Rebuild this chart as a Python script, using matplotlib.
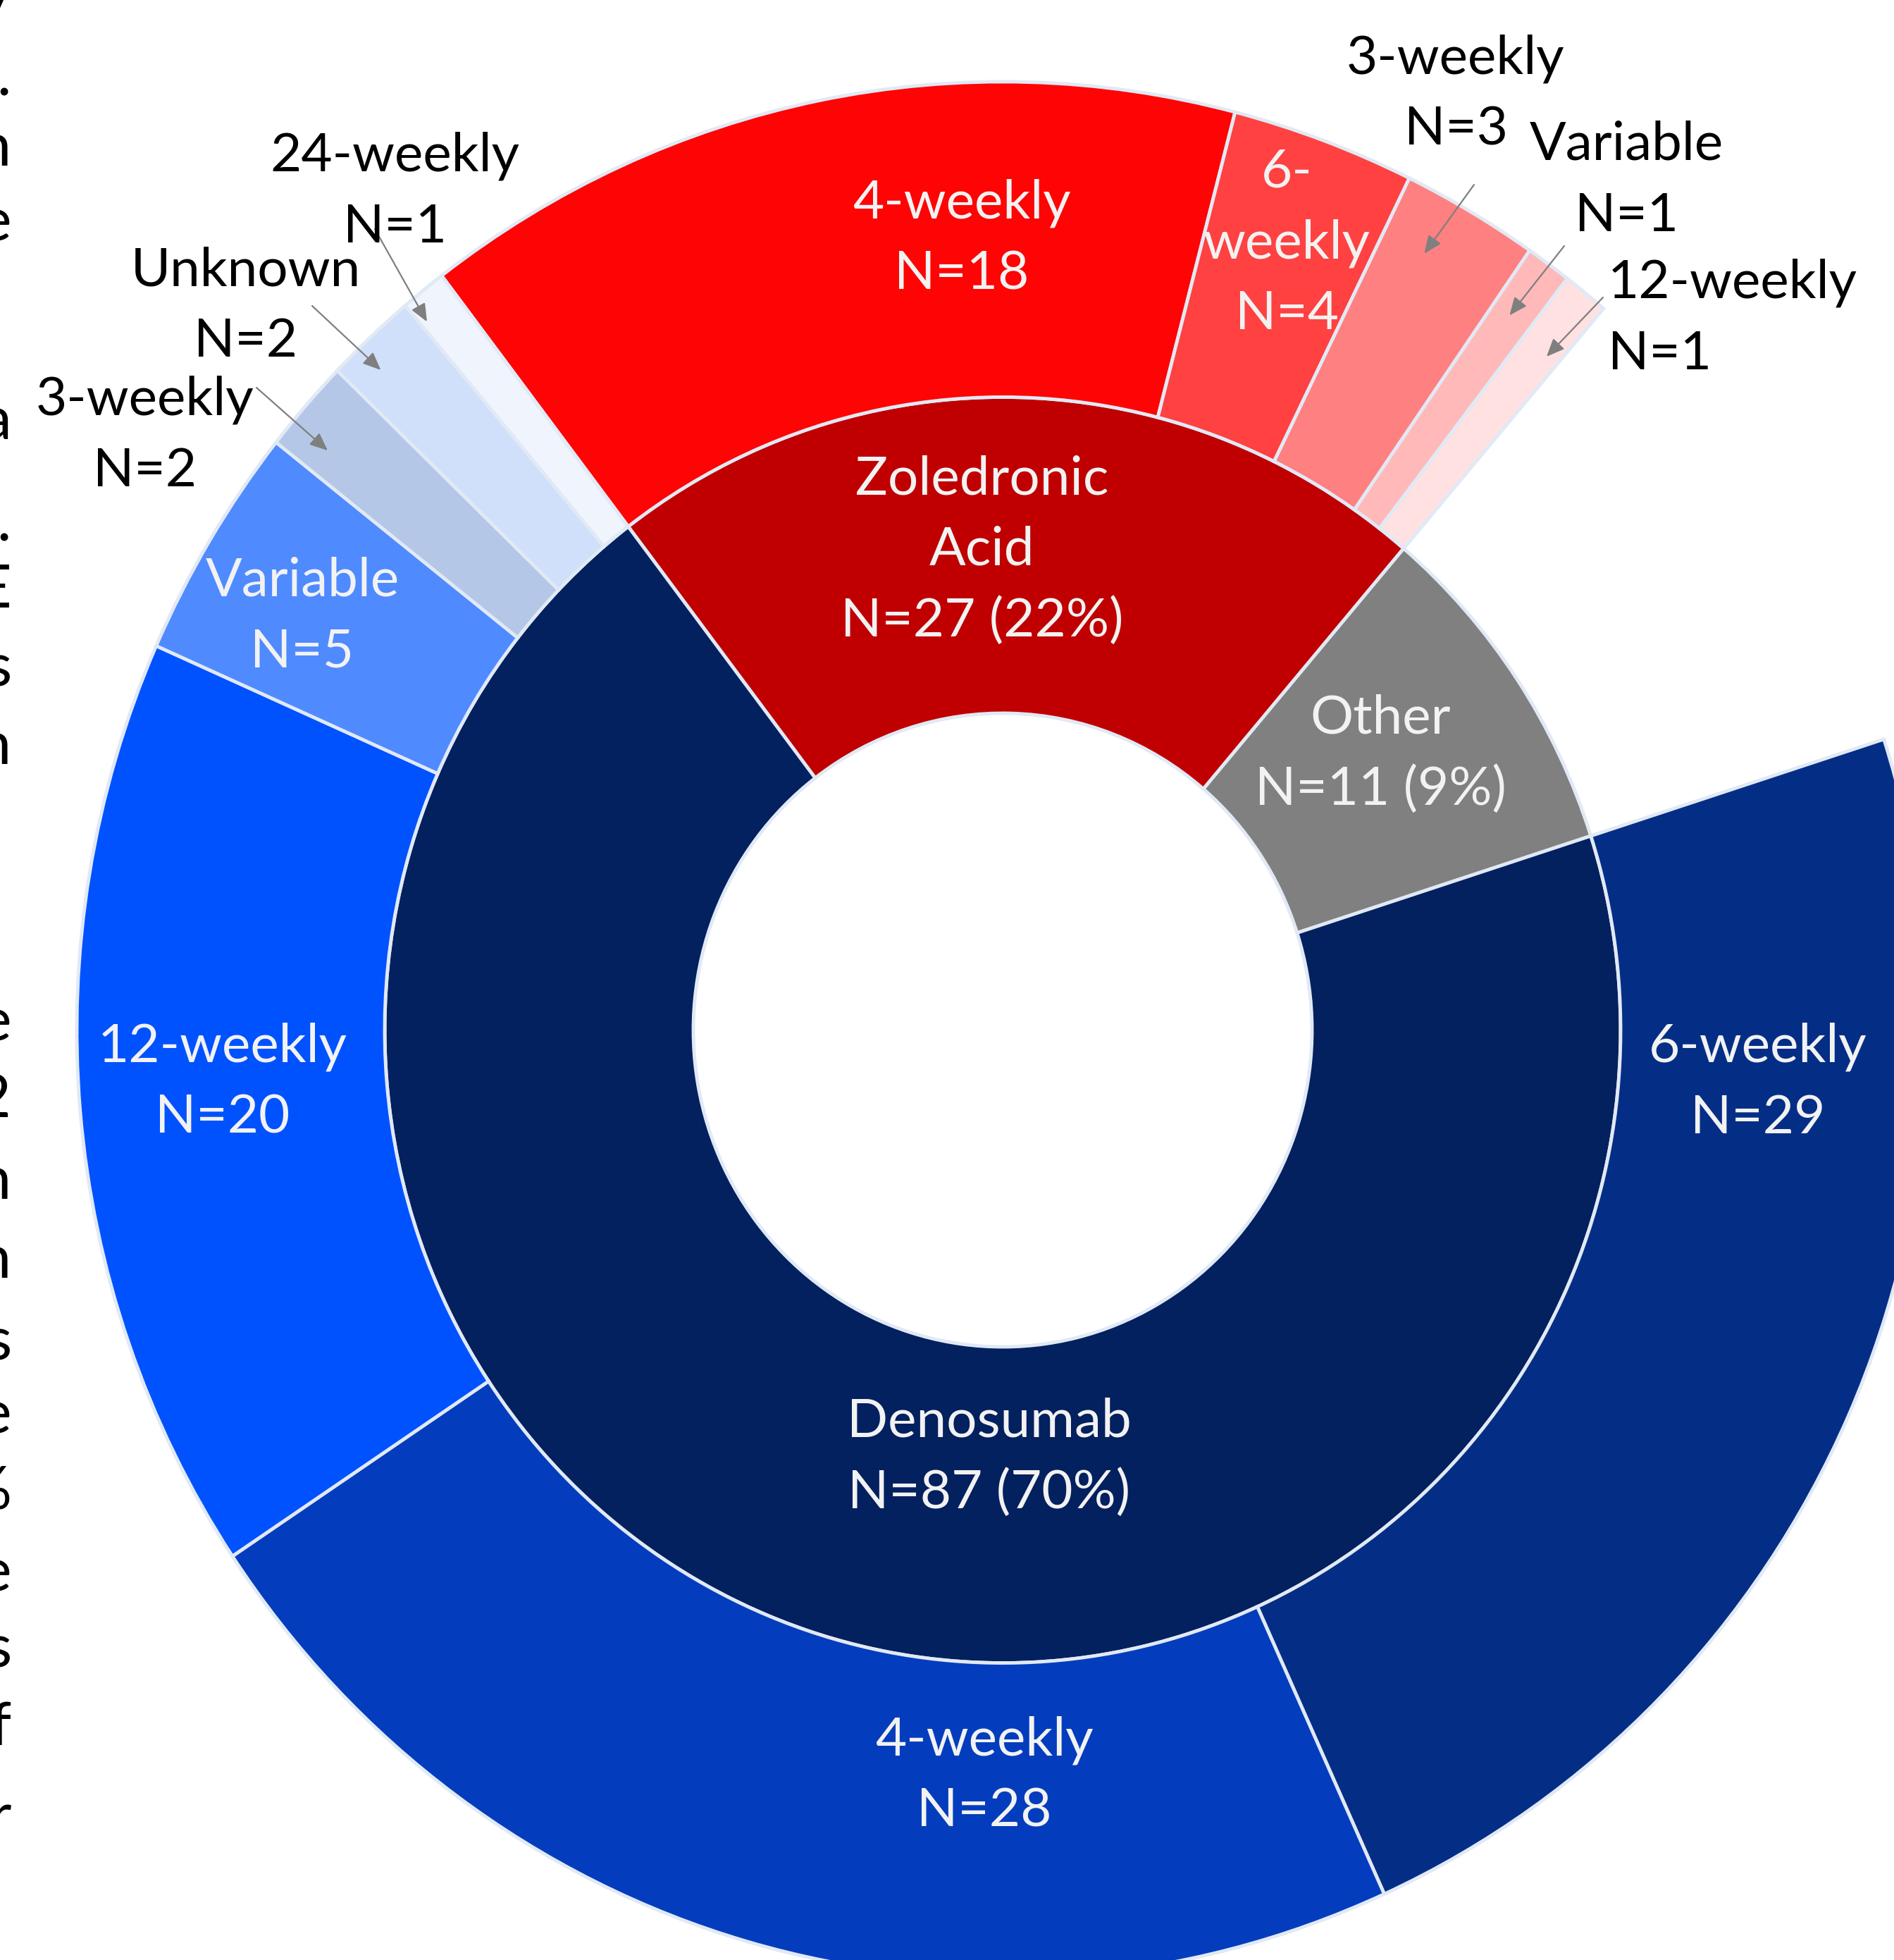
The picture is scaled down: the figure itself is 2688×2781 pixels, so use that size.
import matplotlib.pyplot as plt
import numpy as np

W, H, DPI = 2688, 2781, 100

# inner ring: bone-targeted agent
drug_names = ["Zoledronic\nAcid", "Other", "Denosumab"]
drug_n = [27, 11, 87]
drug_colors = ["#C00000", "#808080", "#03205F"]

# outer ring: dosing interval within each agent ("Other" is not broken down)
zol_names = ["4-weekly", "6-\nweekly", "3-weekly", "Variable", "12-weekly"]
zol_n = [18, 4, 3, 1, 1]
zol_colors = ["#FF0404", "#FF4141", "#FF8080", "#FFB9B9", "#FFE1E1"]

deno_names = ["6-weekly", "4-weekly", "12-weekly", "Variable", "3-weekly", "Unknown", "24-weekly"]
deno_n = [29, 28, 20, 5, 2, 2, 1]
deno_colors = ["#042E86", "#033DBD", "#0052FF", "#4F8AFF", "#B4C7E7", "#D0DFFA", "#EFF4FD"]

FONT = "Lato"
FS = 55
LINE_PX = 101
CAP_PX = 54
TXT_IN = "#F2F2F2"
EDGE = "#E1E9F5"

START = 127.3
R_HOLE, R_MID, R_OUT = 439, 877, 1314
CX, CY, YSTRETCH = 1423, 1461.5, 1.024

fig = plt.figure(figsize=(W / DPI, H / DPI), dpi=DPI)
ax = fig.add_axes([0, 0, 1, 1])

total = sum(drug_n)
inner, _ = ax.pie(drug_n, radius=R_MID, startangle=START, counterclock=False,
                  colors=drug_colors,
                  wedgeprops=dict(width=R_MID - R_HOLE, edgecolor=EDGE, linewidth=3.5))

outer_n = zol_n + [drug_n[1]] + deno_n
outer_colors = zol_colors + ["none"] + deno_colors
outer, _ = ax.pie(outer_n, radius=R_OUT, startangle=START, counterclock=False,
                  colors=outer_colors,
                  wedgeprops=dict(width=R_OUT - R_MID, edgecolor=EDGE, linewidth=3.5))
outer[len(zol_n)].set_visible(False)

ax.set_aspect("auto")
ax.set_xlim(-CX, W - CX)
ax.set_ylim((CY - H) / YSTRETCH, CY / YSTRETCH)
ax.axis("off")


def put_lines(x, y, lines, color, ha="center", size=FS):
    # x, y: pixel centre of the text block, measured from the top-left corner
    n = len(lines)
    for i, line in enumerate(lines):
        yy = y + (i - (n - 1) / 2) * LINE_PX + CAP_PX / 2
        fig.text(x / W, 1 - yy / H, line, ha=ha, va="baseline",
                 color=color, fontsize=size, family=FONT)


def pct(v):
    return f"N={v} ({round(100 * v / total)}%)"


# inner ring labels
put_lines(1394, 775, drug_names[0].split("\n") + [pct(drug_n[0])], TXT_IN)
put_lines(1959, 1064, [drug_names[1], pct(drug_n[1])], TXT_IN)
put_lines(1404, 2062, [drug_names[2], pct(drug_n[2])], TXT_IN)

# outer labels that fit inside their segment
put_lines(1365, 333, zol_names[0].split("\n") + [f"N={zol_n[0]}"], TXT_IN)
put_lines(1826, 339, zol_names[1].split("\n") + [f"N={zol_n[1]}"], TXT_IN)
put_lines(2495, 1530, [deno_names[0], f"N={deno_n[0]}"], TXT_IN)
put_lines(1397, 2514, [deno_names[1], f"N={deno_n[1]}"], TXT_IN)
put_lines(316, 1530, [deno_names[2], f"N={deno_n[2]}"], TXT_IN)
put_lines(429, 869, [deno_names[3], f"N={deno_n[3]}"], TXT_IN)

# small segments get a callout with an arrow:
# (wedge, name, n, text centre px, arrow tail px, text align, arrow-tip position in wedge, tip radius)
callouts = [
    (outer[2], zol_names[2], zol_n[2], (2066, 128), (2092, 262), "center", 0.65, 1231),
    (outer[3], zol_names[3], zol_n[3], (2308, 250), (2220, 349), "center", 0.55, 1224),
    (outer[4], zol_names[4], zol_n[4], (2282, 446), (2275, 422), "left", 0.30, 1211),
    (outer[10], deno_names[4], deno_n[4], (206, 612), (364, 550), "center", 0.71, 1250),
    (outer[11], deno_names[5], deno_n[5], (349, 429), (443, 434), "center", 0.66, 1271),
    (outer[12], deno_names[6], deno_n[6], (560, 266), (532, 325), "center", 0.86, 1277),
]
for wedge, name, n, (tx, ty), (ax_, ay_), ha, frac, r_tip in callouts:
    if ha == "left":
        for i, line in enumerate([name, f"N={n}"]):
            yy = ty + (i - 0.5) * LINE_PX + CAP_PX / 2
            fig.text(tx / W, 1 - yy / H, line, ha="left", va="baseline",
                     color="black", fontsize=FS, family=FONT)
    else:
        put_lines(tx, ty, [name, f"N={n}"], "black")
    ang = np.deg2rad(wedge.theta1 + frac * (wedge.theta2 - wedge.theta1))
    tip = (r_tip * np.cos(ang), r_tip * np.sin(ang))
    ax.annotate("", xy=tip, xytext=(ax_, H - ay_), textcoords="figure pixels",
                arrowprops=dict(arrowstyle="-|>,head_length=0.7,head_width=0.3",
                                mutation_scale=22, color="#7F7F7F", lw=1.6,
                                shrinkA=0, shrinkB=0))

# line endings of the neighbouring body text
margin_chars = ["y", ".", "n", "e", "a", ".", "E", "s", "n",
                "e", "2", "n", "n", "s", "e", "%", "e", "s", "f", "r"]
margin_y = [-8, 112, 211, 318, 600, 744, 838, 950, 1060,
            1453, 1561, 1677, 1789, 1905, 2009, 2117, 2233, 2341, 2452, 2580]
for ch, yy in zip(margin_chars, margin_y):
    fig.text(16 / W, 1 - yy / H, ch, ha="right", va="center",
             color="black", fontsize=62, family=FONT)

fig.savefig("out.png", dpi=DPI)
